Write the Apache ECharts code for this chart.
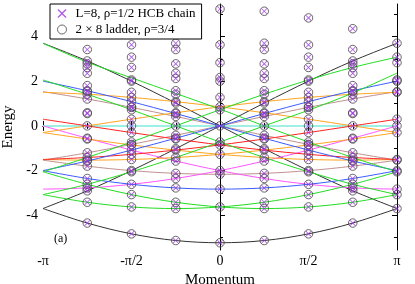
<!DOCTYPE html>
<html><head><meta charset="utf-8">
<script src="https://cdn.jsdelivr.net/npm/echarts@6/dist/echarts.min.js"></script>
<style>html,body{margin:0;padding:0;background:#fff}#c{width:415px;height:284px}</style>
</head><body><div id="c"></div>
<script>
// ---- labels ----
const chainName = 'L=8, ρ=1/2 HCB chain';
const ladderName = '2 × 8 ladder, ρ=3/4';
const xTickLabels = { '-1': '-π', '-0.5': '-π/2', '0': '0', '0.5': 'π/2', '1': 'π' };
const yMajorTicks = [-4, -2, 0, 2, 4];
const yMinorTicks = [-5, -3, -1, 1, 3, 5];

// ---- points: momentum (units of π) and energies in each momentum column ----
const pointMomenta = [-0.75, -0.5, -0.25, 0, 0.25, 0.5, 0.75, 1];
const energiesMinus3q = [4.345, 3.415, 2.903, 2.774, 2.613, 2.352, 1.800, 1.572, 1.531, 1.414, 1.203, 0.586, 0.552, 0, -0.552, -0.586, -1.203, -1.414, -1.531, -1.572, -1.800, -2.352, -2.613, -2.774, -2.903, -3.415, -4.345];
const energiesMinusHalf = [4.828, 3.625, 3.073, 2.613, 2.053, 2.0, 1.502, 1.273, 1.083, 0.851, 0.828, 0.721, 0.299, 0, -0.299, -0.721, -0.828, -0.851, -1.083, -1.273, -1.502, -2.0, -2.053, -2.613, -3.073, -3.625, -4.828];
const energiesMinus1q = [5.126, 3.696, 3.415, 2.774, 2.353, 2.123, 1.572, 1.414, 1.083, 1.020, 0.586, 0.552, 0.422, 0, -0.422, -0.552, -0.586, -1.020, -1.083, -1.414, -1.572, -2.123, -2.353, -2.774, -3.415, -3.696, -5.126];
const energiesZero = [5.226, 3.625, 2.828, 2.165, 2.0, 1.273, 0.851, 0.721, 0, -0.721, -0.851, -1.273, -2.0, -2.165, -2.828, -3.625, -5.226];
const energiesPlus1q = [5.126, 3.696, 3.415, 2.774, 2.353, 2.123, 1.572, 1.414, 1.083, 1.020, 0.586, 0.552, 0.422, 0, -0.422, -0.552, -0.586, -1.020, -1.083, -1.414, -1.572, -2.123, -2.353, -2.774, -3.415, -3.696, -5.126];
const energiesPlusHalf = [4.828, 3.625, 3.073, 2.613, 2.053, 2.0, 1.502, 1.273, 1.083, 0.851, 0.828, 0.721, 0.299, 0, -0.299, -0.721, -0.828, -0.851, -1.083, -1.273, -1.502, -2.0, -2.053, -2.613, -3.073, -3.625, -4.828];
const energiesPlus3q = [4.345, 3.415, 2.903, 2.774, 2.613, 2.352, 1.800, 1.572, 1.531, 1.414, 1.203, 0.586, 0.552, 0, -0.552, -0.586, -1.203, -1.414, -1.531, -1.572, -1.800, -2.352, -2.613, -2.774, -2.903, -3.415, -4.345];
const energiesPi = [3.696, 3.074, 2.829, 2.053, 2.0, 1.531, 1.502, 0.299, 0, -0.299, -1.502, -1.531, -2.0, -2.053, -2.829, -3.074, -3.696];

// ---- bands: values at momenta -π ... π in steps of π/4 ----
const lineMomenta = [-1, -0.75, -0.5, -0.25, 0, 0.25, 0.5, 0.75, 1];
const black1 = [-3.695, -2.903, -2.0, -1.020, 0, 1.020, 2.0, 2.903, 3.695];
const black2 = [3.695, 2.903, 2.0, 1.020, 0, -1.020, -2.0, -2.903, -3.695];
const black3 = [-3.695, -4.345, -4.828, -5.126, -5.226, -5.126, -4.828, -4.345, -3.695];
const green1 = [-2.053, -1.414, -0.721, 0, 0.721, 1.414, 2.053, 2.613, 3.073];
const green2 = [3.695, 2.85, 2.15, 1.45, 0.75, 0, -0.721, -1.414, -2.053];
const green3 = [-3.073, -2.613, -2.053, -1.414, -0.721, 0, 0.70, 1.47, 2.36];
const green4 = [2.053, 1.414, 0.721, 0, -0.721, -1.414, -2.053, -2.613, -3.073];
const green5 = [-3.073, -3.415, -3.625, -3.696, -3.625, -3.415, -3.073, -2.613, -2.053];
const green6 = [-2.053, -2.613, -3.073, -3.415, -3.625, -3.696, -3.625, -3.415, -3.073];
const blue1 = [-2.0, -1.571, -1.082, -0.552, 0, 0.552, 1.082, 1.571, 2.0];
const blue2 = [2.0, 1.571, 1.082, 0.552, 0, -0.552, -1.082, -1.571, -2.0];
const blue3 = [-2.0, -2.352, -2.613, -2.774, -2.828, -2.774, -2.613, -2.352, -2.0];
const orange1 = [-0.299, 0, 0.299, 0.586, 0.851, 1.083, 1.273, 1.414, 1.502];
const orange2 = [1.502, 1.414, 1.273, 1.083, 0.851, 0.586, 0.299, 0, -0.299];
const orange3 = [-1.502, -1.531, -1.502, -1.414, -1.273, -1.083, -0.851, -0.586, -0.299];
const orange4 = [-0.299, -0.586, -0.851, -1.083, -1.273, -1.414, -1.502, -1.531, -1.502];
const brown1 = [-1.531, -1.203, -0.828, -0.422, 0, 0.422, 0.828, 1.203, 1.531];
const brown2 = [1.531, 1.203, 0.828, 0.422, 0, -0.422, -0.828, -1.203, -1.531];
const brown3 = [-1.531, -1.800, -2.0, -2.123, -2.165, -2.123, -2.0, -1.800, -1.531];
const red1 = [0.299, 0, -0.299, -0.586, -0.851, -1.083, -1.273, -1.414, -1.502];
const red2 = [-1.502, -1.414, -1.273, -1.083, -0.851, -0.586, -0.299, 0, 0.299];
const magenta1 = [-2.828, -2.774, -2.613, -2.352, -2.0, -1.571, -1.082, -0.552, 0];
const magenta2 = [0, -0.552, -1.082, -1.571, -2.0, -2.352, -2.613, -2.774, -2.828];
const cyan1 = [0, 0, 0, 0, 0, 0, 0, 0, 0];

// ---- build ----
const FONT = 'Liberation Serif, Times New Roman, serif';
const columns = [energiesMinus3q, energiesMinusHalf, energiesMinus1q, energiesZero, energiesPlus1q, energiesPlusHalf, energiesPlus3q, energiesPi];
const pts = [];
pointMomenta.forEach((m, i) => columns[i].forEach(e => pts.push([m, e])));

const lineDefs = [
  [cyan1, '#9ff0e4', 2],
  [black3, '#333', 1], [black1, '#333', 1], [black2, '#333', 1],
  [brown1, '#c09090', 1], [brown2, '#c09090', 1], [brown3, '#c09090', 1],
  [magenta1, '#ff55ff', 1], [magenta2, '#ff55ff', 1],
  [orange1, '#ffa420', 1], [orange2, '#ffa420', 1], [orange3, '#ffa420', 1], [orange4, '#ffa420', 1],
  [red1, '#ff2020', 1], [red2, '#ff2020', 1],
  [blue1, '#3a5aff', 1], [blue2, '#3a5aff', 1], [blue3, '#3a5aff', 1],
  [green1, '#22dd22', 1], [green2, '#22dd22', 1], [green3, '#22dd22', 1], [green4, '#22dd22', 1], [green5, '#22dd22', 1], [green6, '#22dd22', 1]
];
const crossPath = 'path://M0,1 L1,0 L5,4 L9,0 L10,1 L6,5 L10,9 L9,10 L5,6 L1,10 L0,9 L4,5 Z';

const series = lineDefs.map(([vals, color, w]) => ({
  type: 'line', data: lineMomenta.map((m, i) => [m, vals[i]]), smooth: 0.35,
  showSymbol: false, symbol: 'none', silent: true, z: 2,
  lineStyle: { color: color, width: w }
}));
series.push({
  name: ladderName, type: 'scatter', data: pts, symbol: 'circle', symbolSize: 8.5, z: 3,
  itemStyle: { color: 'rgba(0,0,0,0)', borderColor: '#444', borderWidth: 1 }
});
series.push({
  name: chainName, type: 'scatter', data: pts, symbol: crossPath, symbolSize: 6, z: 4,
  itemStyle: { color: '#9a30e0' }
});

const frameLine = { show: true, lineStyle: { color: '#000', width: 1 } };
const xBase = (pos, labels) => ({
  type: 'value', position: pos, min: -1, max: 1, interval: 0.5,
  axisLine: frameLine,
  axisTick: { show: true, inside: true, length: 5, lineStyle: { color: '#000' } },
  minorTick: { show: true, splitNumber: 2, length: 3, lineStyle: { color: '#000' } },
  splitLine: { show: false }, minorSplitLine: { show: false },
  axisLabel: labels ? { show: true, margin: 4, color: '#000', fontFamily: FONT, fontSize: 14,
    formatter: v => xTickLabels[String(Math.round(v * 100) / 100)] || '' } : { show: false }
});
const yBase = (pos, ticks, len, showLine, labels) => ({
  type: 'value', position: pos, min: -5.55, max: 5.45,
  axisLine: showLine ? frameLine : { show: false },
  axisTick: { show: true, inside: true, length: len, customValues: ticks, lineStyle: { color: '#000' } },
  splitLine: { show: false },
  axisLabel: labels ? { show: true, customValues: ticks, margin: 5, color: '#000', fontFamily: FONT, fontSize: 14 } : { show: false },
  name: labels ? 'Energy' : '', nameLocation: 'middle', nameRotate: 90, nameGap: 26,
  nameTextStyle: { fontFamily: FONT, fontSize: 15, color: '#000' }
});

const xAxes = [xBase('bottom', true), xBase('top', false)];
xAxes[0].name = 'Momentum'; xAxes[0].nameLocation = 'middle'; xAxes[0].nameGap = 14;
xAxes[0].nameTextStyle = { fontFamily: FONT, fontSize: 15, color: '#000' };

const chart = echarts.init(document.getElementById('c'), null, { renderer: 'canvas' });
chart.setOption({
  animation: false,
  backgroundColor: '#fff',
  grid: { left: 43, right: 18, top: 4, bottom: 34, containLabel: false, outerBoundsMode: 'none' },
  xAxis: xAxes,
  yAxis: [
    yBase('left', yMajorTicks, 5, true, true),
    yBase('left', yMinorTicks, 3, false, false),
    yBase('right', yMajorTicks, 5, true, false),
    yBase('right', yMinorTicks, 3, false, false)
  ],
  legend: {
    left: 50, top: 4, orient: 'vertical', z: 10,
    backgroundColor: '#fff', borderColor: '#000', borderWidth: 1, borderRadius: 0,
    padding: [3, 6, 3, 7], itemGap: 3, itemWidth: 9, itemHeight: 9,
    textStyle: { fontFamily: FONT, fontSize: 13, color: '#000', padding: [0, 0, 0, 4] },
    data: [
      { name: chainName, icon: crossPath, itemStyle: { color: '#9a30e0' } },
      { name: ladderName, icon: 'circle', itemStyle: { color: 'rgba(0,0,0,0)', borderColor: '#444', borderWidth: 1 } }
    ],
    selectedMode: false
  },
  graphic: [{ type: 'text', left: 54, top: 233, z: 10,
    style: { text: '(a)', font: '12px ' + FONT, fill: '#000' } }],
  series: series
});
</script></body></html>
